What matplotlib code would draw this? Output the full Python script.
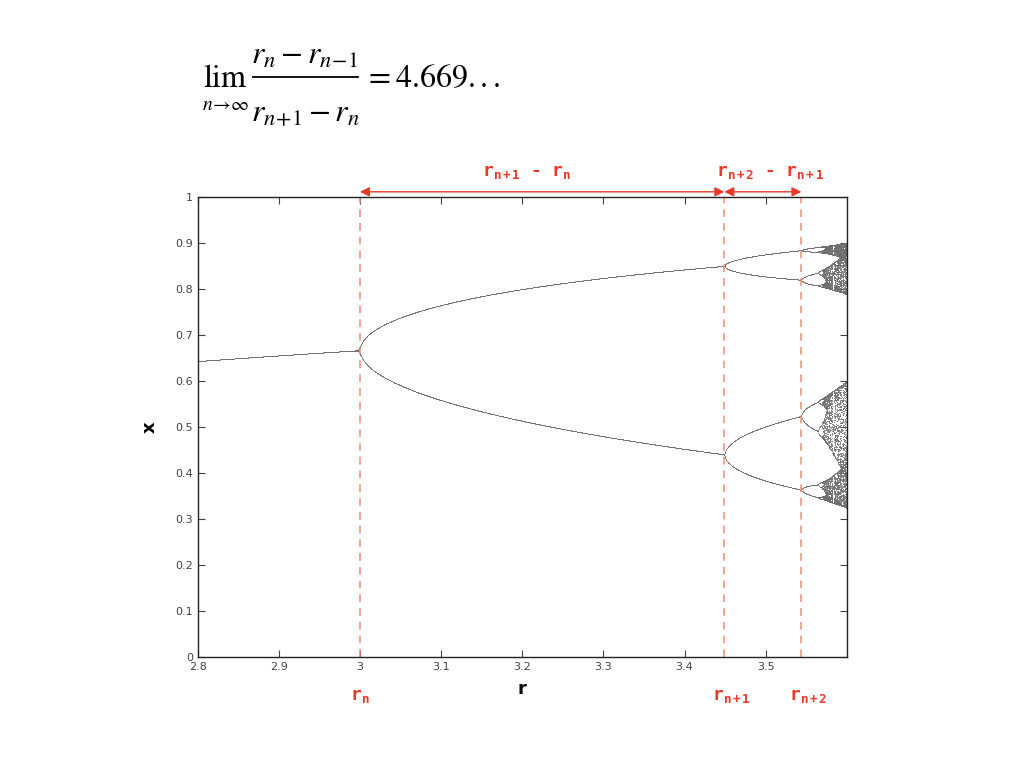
import numpy as np
import matplotlib
matplotlib.use("Agg")
import matplotlib.pyplot as plt
from matplotlib.lines import Line2D

# logistic map x -> r x (1 - x), sampled over the plotted r range
r_range = [2.8, 3.6]
n_r = 1700
n_transient = 1000
n_keep = 120
x0 = 0.5

# period-doubling points marked on the chart
r_marks = [3.0, 3.449, 3.544]
mark_labels = [r"$\mathrm{r}_{\mathrm{n}}$", r"$\mathrm{r}_{\mathrm{n+1}}$", r"$\mathrm{r}_{\mathrm{n+2}}$"]
gap_labels = [r"$\mathrm{r}_{\mathrm{n+1}}$ - $\mathrm{r}_{\mathrm{n}}$",
              r"$\mathrm{r}_{\mathrm{n+2}}$ - $\mathrm{r}_{\mathrm{n+1}}$"]

xticks = [2.8, 2.9, 3.0, 3.1, 3.2, 3.3, 3.4, 3.5]
xticklabels = ["2.8", "2.9", "3", "3.1", "3.2", "3.3", "3.4", "3.5"]
yticks = [0, 0.1, 0.2, 0.3, 0.4, 0.5, 0.6, 0.7, 0.8, 0.9, 1]
yticklabels = ["0", "0.1", "0.2", "0.3", "0.4", "0.5", "0.6", "0.7", "0.8", "0.9", "1"]

plt.rcParams["mathtext.fontset"] = "custom"
plt.rcParams["mathtext.rm"] = "DejaVu Sans Mono:bold"
plt.rcParams["mathtext.it"] = "DejaVu Sans Mono:bold"
plt.rcParams["mathtext.bf"] = "DejaVu Sans Mono:bold"

r = np.linspace(r_range[0], r_range[1], n_r)
x = np.full(n_r, x0)
for _ in range(n_transient):
    x = r * x * (1 - x)
hist = []
for _ in range(n_keep):
    x = r * x * (1 - x)
    hist.append(x.copy())
hist = np.array(hist)
rs, xs = [], []
for i in range(n_r):
    u = np.unique(np.round(hist[:, i], 4))
    rs.append(np.full(len(u), r[i]))
    xs.append(u)
rs = np.concatenate(rs)
xs = np.concatenate(xs)

fig = plt.figure(figsize=(10.24, 7.69), dpi=100)
ax = fig.add_axes([0.193, 0.146, 0.634, 0.598])

ax.plot(rs, xs, ".", color="#6f6f6f", alpha=0.8, ms=1.3, mew=0, rasterized=True)

red = "#e8392a"
for rm in r_marks:
    ax.axvline(rm, color="#f08a78", lw=1.1, ls=(0, (5, 4)))

ax.set_xlim(r_range)
ax.set_ylim(0, 1)
ax.set_xticks(xticks)
ax.set_xticklabels(xticklabels)
ax.set_yticks(yticks)
ax.set_yticklabels(yticklabels)
ax.tick_params(direction="in", top=True, right=True, length=5, width=0.8,
               labelsize=8, labelcolor="#444444", color="#444444")
for s in ax.spines.values():
    s.set_linewidth(1.0)
    s.set_color("#222222")

ax.set_xlabel("r", fontsize=13, fontweight="bold", labelpad=6)
ax.set_ylabel("x", fontsize=13, fontweight="bold", labelpad=12)

# arrows above the plot
ya = 1.011
for a, b in [(r_marks[0], r_marks[1]), (r_marks[1], r_marks[2])]:
    ax.annotate("", xy=(a, ya), xytext=(b, ya), xycoords="data",
                annotation_clip=False,
                arrowprops=dict(arrowstyle="<|-|>", color=red, lw=1.0,
                                mutation_scale=14, shrinkA=0, shrinkB=0))

ax.text(3.205, 1.035, gap_labels[0], color=red, fontsize=13,
        family="DejaVu Sans Mono", fontweight="bold", ha="center", va="bottom")
ax.text(3.505, 1.035, gap_labels[1], color=red, fontsize=13,
        family="DejaVu Sans Mono", fontweight="bold", ha="center", va="bottom")

ax.text(r_marks[0], -0.065, mark_labels[0], color=red, fontsize=13,
        ha="center", va="top")
ax.text(r_marks[1] + 0.008, -0.065, mark_labels[1], color=red, fontsize=13,
        ha="center", va="top")
ax.text(r_marks[2] + 0.008, -0.065, mark_labels[2], color=red, fontsize=13,
        ha="center", va="top")


# Feigenbaum limit, laid out piece by piece (pixel positions from the top)
def fx(px):
    return px / 1024


def fy(py):
    return 1 - py / 769


fs = 23
fig.text(fx(203), fy(87), r"$\mathrm{lim}$", fontsize=fs,
         math_fontfamily="stix", ha="left", va="baseline")
fig.text(fx(202), fy(110), r"$n\!\to\!\infty$", fontsize=14,
         math_fontfamily="stix", ha="left", va="baseline")
fig.text(fx(305), fy(64), r"$r_n - r_{n\!-\!1}$", fontsize=fs,
         math_fontfamily="stix", ha="center", va="baseline")
fig.add_artist(Line2D([fx(253), fx(358)], [fy(77), fy(77)],
                      transform=fig.transFigure, color="black", lw=1.3))
fig.text(fx(305), fy(121), r"$r_{n\!+\!1} - r_n$", fontsize=fs,
         math_fontfamily="stix", ha="center", va="baseline")
fig.text(fx(364), fy(87), r"$=4.669\mathrm{...}$", fontsize=fs,
         math_fontfamily="stix", ha="left", va="baseline")

fig.savefig("out.png", dpi=100)
